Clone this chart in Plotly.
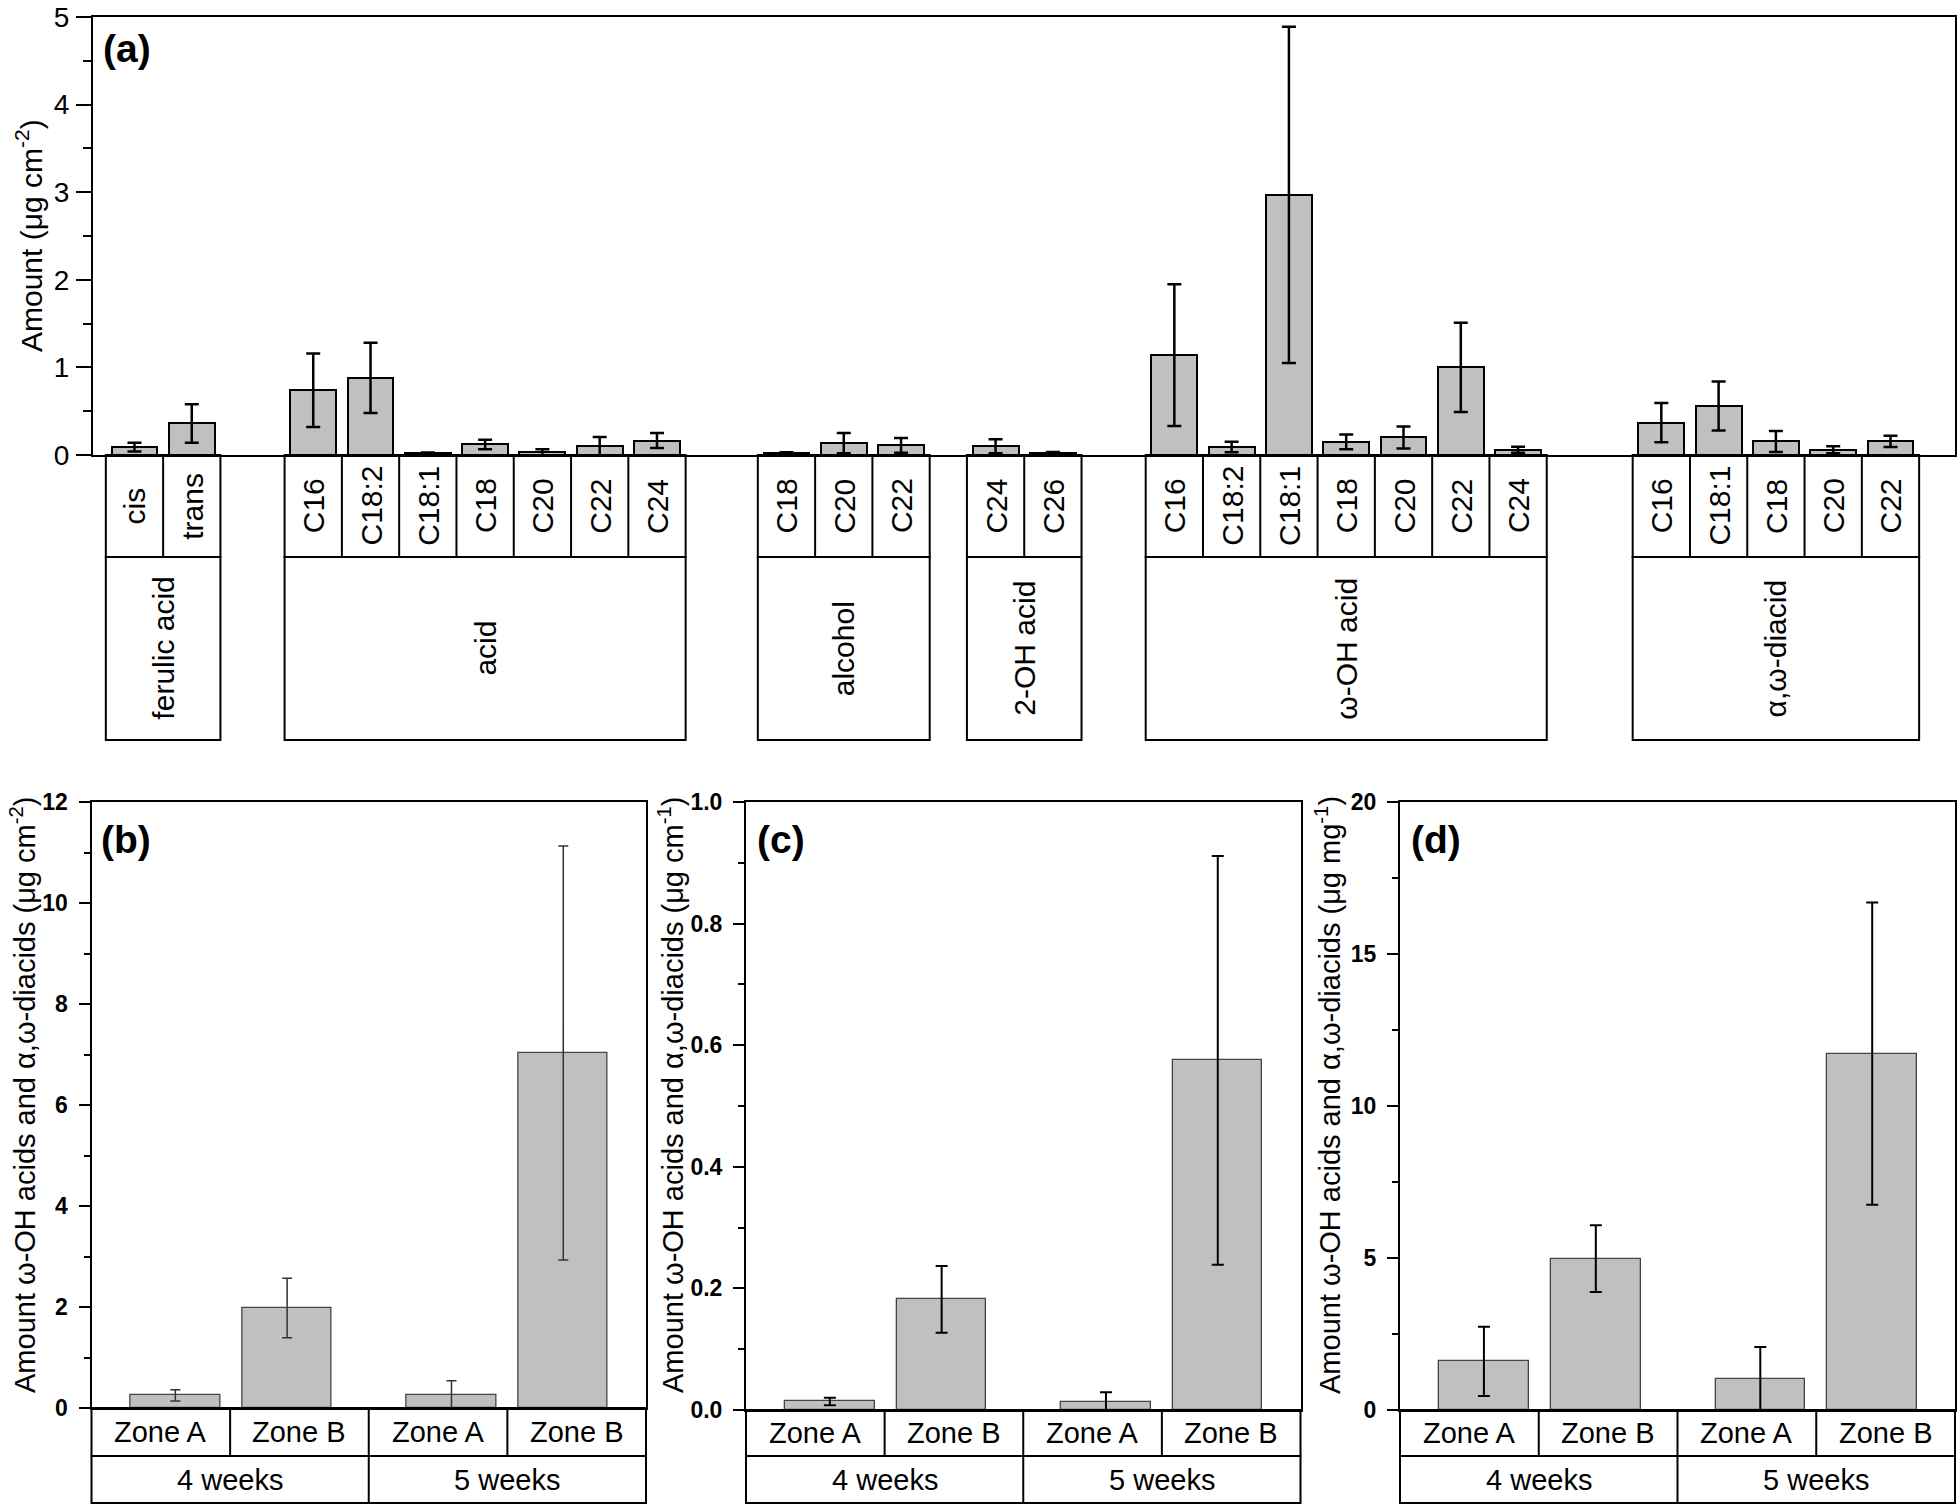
import plotly.graph_objects as go

# ---------------- data: panel (a) ----------------
group_names = ["ferulic acid", "acid", "alcohol", "2-OH acid", "ω-OH acid", "α,ω-diacid"]

ferulic_labels = ["cis", "trans"]
ferulic_vals = [0.09, 0.36]
ferulic_err = [0.05, 0.22]

acid_labels = ["C16", "C18:2", "C18:1", "C18", "C20", "C22", "C24"]
acid_vals = [0.74, 0.88, 0.018, 0.12, 0.03, 0.10, 0.165]
acid_err = [0.42, 0.40, 0.01, 0.055, 0.035, 0.105, 0.085]

alcohol_labels = ["C18", "C20", "C22"]
alcohol_vals = [0.02, 0.135, 0.11]
alcohol_err = [0.01, 0.115, 0.085]

hydroxy2_labels = ["C24", "C26"]
hydroxy2_vals = [0.10, 0.025]
hydroxy2_err = [0.08, 0.01]

omega_labels = ["C16", "C18:2", "C18:1", "C18", "C20", "C22", "C24"]
omega_vals = [1.14, 0.09, 2.97, 0.15, 0.20, 1.00, 0.06]
omega_err = [0.81, 0.06, 1.92, 0.085, 0.125, 0.51, 0.035]

diacid_labels = ["C16", "C18:1", "C18", "C20", "C22"]
diacid_vals = [0.37, 0.56, 0.155, 0.06, 0.155]
diacid_err = [0.225, 0.28, 0.12, 0.04, 0.065]

# ---------------- data: panels (b)-(d) ----------------
zone_labels = ["Zone A", "Zone B", "Zone A", "Zone B"]
week_labels = ["4 weeks", "5 weeks"]
b_vals = [0.25, 1.98, 0.26, 7.03]
b_err = [0.11, 0.59, 0.28, 4.10]
c_vals = [0.014, 0.182, 0.013, 0.575]
c_err = [0.006, 0.055, 0.016, 0.336]
d_vals = [1.60, 4.98, 1.02, 11.72]
d_err = [1.14, 1.10, 1.05, 4.97]

# ---------------- layout helpers ----------------
W, H = 1960, 1510
def px(x):
    return x / W
def py(y):
    return 1 - y / H

FONT = "Liberation Sans, Arial, sans-serif"
NARROW = "Liberation Sans Narrow, Liberation Sans, Arial, sans-serif"
FILL = "#c0c0c0"

groups = [
    (ferulic_labels, ferulic_vals, ferulic_err),
    (acid_labels, acid_vals, acid_err),
    (alcohol_labels, alcohol_vals, alcohol_err),
    (hydroxy2_labels, hydroxy2_vals, hydroxy2_err),
    (omega_labels, omega_vals, omega_err),
    (diacid_labels, diacid_vals, diacid_err),
]
group_gaps = [2.12, 2.26, 1.65, 2.12, 2.5]   # spacing between groups (layout)

fig = go.Figure()
shapes = []
annotations = []

# ---- panel (a) ----
start = 0.0
all_x, all_y, all_e = [], [], []
group_pos = []
for gi, (labs, vals, errs) in enumerate(groups):
    pos = [start + i for i in range(len(labs))]
    group_pos.append(pos)
    all_x += pos
    all_y += vals
    all_e += errs
    if gi < len(group_gaps):
        start = pos[-1] + group_gaps[gi]

fig.add_trace(go.Bar(
    x=all_x, y=all_y, width=0.8, xaxis="x", yaxis="y",
    marker=dict(color=FILL, line=dict(color="black", width=2)),
    error_y=dict(type="data", array=all_e, visible=True, color="black", thickness=2.5, width=7),
    showlegend=False, hoverinfo="skip",
))

ROW0, ROW1, ROW2 = 455, 557, 740
LINE = dict(color="black", width=2)
for gi, (labs, vals, errs) in enumerate(groups):
    pos = group_pos[gi]
    x0, x1 = pos[0] - 0.5, pos[-1] + 0.5
    shapes.append(dict(type="rect", xref="x", yref="paper", x0=x0, x1=x1,
                       y0=py(ROW1), y1=py(ROW0), line=LINE))
    shapes.append(dict(type="rect", xref="x", yref="paper", x0=x0, x1=x1,
                       y0=py(ROW2), y1=py(ROW1), line=LINE))
    for p in pos[:-1]:
        shapes.append(dict(type="line", xref="x", yref="paper", x0=p + 0.5, x1=p + 0.5,
                           y0=py(ROW1), y1=py(ROW0), line=LINE))
    for p, lab in zip(pos, labs):
        annotations.append(dict(xref="x", yref="paper", x=p, y=py((ROW0 + ROW1) / 2),
                                text=lab, textangle=-90, showarrow=False,
                                xanchor="center", yanchor="middle",
                                font=dict(family=FONT, size=30, color="black")))
    annotations.append(dict(xref="x", yref="paper", x=(pos[0] + pos[-1]) / 2,
                            y=py((ROW1 + ROW2) / 2), text=group_names[gi], textangle=-90,
                            showarrow=False, xanchor="center", yanchor="middle",
                            font=dict(family=FONT, size=30, color="black")))

x_a_left = -0.724
x_a_right = group_pos[-1][-1] + 1.126

# ---- panels (b)-(d) ----
week_gap = 1.47
bar_pos = [0, 1, 1 + week_gap, 2 + week_gap]
small = [
    ("x2", "y2", b_vals, b_err, dict(color="#333333", thickness=1.5, width=5)),
    ("x3", "y3", c_vals, c_err, dict(color="black", thickness=2, width=6)),
    ("x4", "y4", d_vals, d_err, dict(color="black", thickness=2, width=6)),
]
for xa, ya, vals, errs, es in small:
    fig.add_trace(go.Bar(
        x=bar_pos, y=vals, width=0.8, xaxis=xa, yaxis=ya,
        marker=dict(color=FILL, line=dict(color="#444444", width=1.3)),
        error_y=dict(type="data", array=errs, visible=True, **es),
        showlegend=False, hoverinfo="skip",
    ))

panel_geo = {
    "b": dict(x0=91.5, x1=646, y0=802, y1=1408),
    "c": dict(x0=746, x1=1300.5, y0=802, y1=1410),
    "d": dict(x0=1400, x1=1955, y0=802, y1=1410),
}
RB1, RB2 = 1456, 1503
for key, xa in zip(["b", "c", "d"], ["x2", "x3", "x4"]):
    g = panel_geo[key]
    dref = xa + " domain"
    shapes.append(dict(type="rect", xref=dref, yref="paper", x0=0, x1=1,
                       y0=py(RB1), y1=py(g["y1"]), line=LINE))
    shapes.append(dict(type="rect", xref=dref, yref="paper", x0=0, x1=1,
                       y0=py(RB2), y1=py(RB1), line=LINE))
    for f in [0.25, 0.5, 0.75]:
        shapes.append(dict(type="line", xref=dref, yref="paper", x0=f, x1=f,
                           y0=py(RB1), y1=py(g["y1"]), line=LINE))
    shapes.append(dict(type="line", xref=dref, yref="paper", x0=0.5, x1=0.5,
                       y0=py(RB2), y1=py(RB1), line=LINE))
    for i, lab in enumerate(zone_labels):
        annotations.append(dict(xref=dref, yref="paper", x=0.125 + 0.25 * i,
                                y=py((g["y1"] + RB1) / 2), text=lab, showarrow=False,
                                xanchor="center", yanchor="middle",
                                font=dict(family=FONT, size=29, color="black")))
    for i, lab in enumerate(week_labels):
        annotations.append(dict(xref=dref, yref="paper", x=0.25 + 0.5 * i,
                                y=py((RB1 + RB2) / 2), text=lab, showarrow=False,
                                xanchor="center", yanchor="middle",
                                font=dict(family=FONT, size=29, color="black")))

# panel letters
for lab, x, y in [("(a)", 101, 48), ("(b)", 99, 840), ("(c)", 755, 840), ("(d)", 1409, 840)]:
    annotations.append(dict(xref="paper", yref="paper", x=px(x), y=py(y), text="<b>" + lab + "</b>",
                            showarrow=False, xanchor="left", yanchor="middle",
                            font=dict(family=NARROW, size=39, color="black")))

# y-axis titles
annotations.append(dict(xref="paper", yref="paper", x=px(29), y=py(236),
                        text="Amount (μg cm<sup>-2</sup>)", textangle=-90, showarrow=False,
                        xanchor="center", yanchor="middle",
                        font=dict(family=FONT, size=30, color="black")))
long_title = "Amount ω-OH acids and α,ω-diacids "
for x, unit in [(23, "(μg cm<sup>-2</sup>)"), (671, "(μg cm<sup>-1</sup>)"), (1328, "(μg mg<sup>-1</sup>)")]:
    annotations.append(dict(xref="paper", yref="paper", x=px(x), y=py(1095),
                            text=long_title + unit, textangle=-90, showarrow=False,
                            xanchor="center", yanchor="middle",
                            font=dict(family=FONT, size=29, color="black")))

def xaxis_cfg(x0, x1, rng, anchor):
    return dict(domain=[px(x0), px(x1)], range=rng, anchor=anchor, automargin=False,
                showline=True, mirror=True, linecolor="black", linewidth=2,
                showticklabels=False, ticks="", showgrid=False, zeroline=False, fixedrange=True)

def yaxis_cfg(y0, y1, rng, dtick, anchor, tickfont, ticklen, fmt=None, standoff=0, bold=False):
    d = dict(domain=[py(y1), py(y0)], range=rng, anchor=anchor, tick0=0, dtick=dtick,
             automargin=False,
             showline=True, mirror=True, linecolor="black", linewidth=2,
             ticks="outside", ticklen=ticklen, tickwidth=2, tickcolor="black",
             tickfont=tickfont, showgrid=False, zeroline=False, fixedrange=True,
             ticklabelstandoff=standoff)
    if bold:
        d["tickprefix"] = "<b>"
        d["ticksuffix"] = "</b>"
    if fmt:
        d["tickformat"] = fmt
    return d

def minor_cfg(dtick, ticklen):
    return dict(ticks="outside", ticklen=ticklen, tickwidth=2, tickcolor="black",
                dtick=dtick, showgrid=False)

small_tick_font = dict(family=FONT, size=23, color="black")
gb, gc, gd = panel_geo["b"], panel_geo["c"], panel_geo["d"]
fig.update_layout(
    width=W, height=H, margin=dict(l=0, r=0, t=0, b=0, pad=0, autoexpand=False),
    paper_bgcolor="white", plot_bgcolor="white", showlegend=False, bargap=0,
    xaxis=xaxis_cfg(93, 1955, [x_a_left, x_a_right], "y"),
    yaxis=yaxis_cfg(17, 455, [0, 5], 1, "x", dict(family=FONT, size=28, color="black"), 15, standoff=1),
    xaxis2=xaxis_cfg(gb["x0"], gb["x1"], [-0.75, 4.21], "y2"),
    yaxis2=yaxis_cfg(gb["y0"], gb["y1"], [0, 12], 2, "x2", small_tick_font, 11, standoff=6, bold=True),
    xaxis3=xaxis_cfg(gc["x0"], gc["x1"], [-0.75, 4.21], "y3"),
    yaxis3=yaxis_cfg(gc["y0"], gc["y1"], [0, 1], 0.2, "x3", small_tick_font, 11, fmt=".1f", standoff=6, bold=True),
    xaxis4=xaxis_cfg(gd["x0"], gd["x1"], [-0.75, 4.21], "y4"),
    yaxis4=yaxis_cfg(gd["y0"], gd["y1"], [0, 20], 5, "x4", small_tick_font, 11, standoff=6, bold=True),
    shapes=shapes, annotations=annotations,
)
fig.update_layout(
    yaxis_minor=minor_cfg(0.5, 8),
    yaxis2_minor=minor_cfg(1, 6),
    yaxis3_minor=minor_cfg(0.1, 6),
    yaxis4_minor=minor_cfg(2.5, 6),
)

fig.write_html("out.html", config={"displayModeBar": False},
               post_script="document.body.style.margin='0';document.body.style.overflow='hidden';")
